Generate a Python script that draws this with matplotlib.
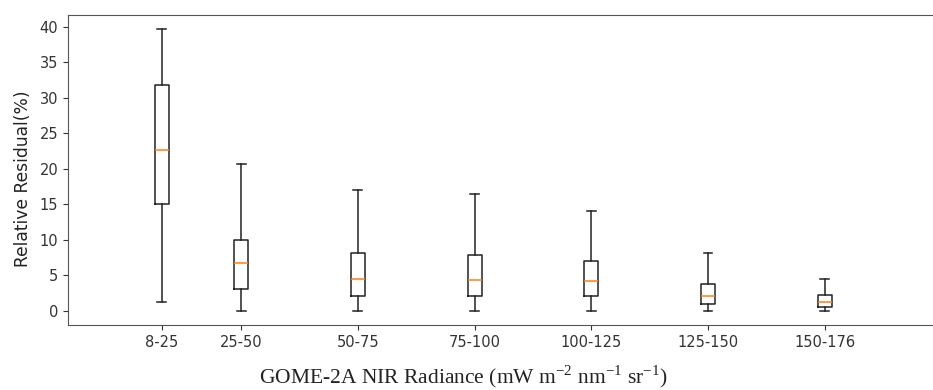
import matplotlib
matplotlib.use('Agg')
import matplotlib.pyplot as plt

# radiance bins (lower bound used as box position)
labels = ['8-25', '25-50', '50-75', '75-100', '100-125', '125-150', '150-176']
positions = [8, 25, 50, 75, 100, 125, 150]

# box statistics (relative residual, %)
whis_lo = [1.2, 0.0, 0.0, 0.0, 0.0, 0.0, 0.0]
q1 = [15.1, 3.1, 2.1, 2.1, 2.15, 0.9, 0.5]
med = [22.6, 6.7, 4.5, 4.4, 4.25, 2.1, 1.3]
q3 = [31.8, 10.0, 8.1, 7.8, 7.0, 3.75, 2.25]
whis_hi = [39.7, 20.6, 17.0, 16.4, 14.0, 8.1, 4.5]

plt.rcParams['mathtext.fontset'] = 'custom'
plt.rcParams['mathtext.rm'] = 'Liberation Serif'

stats = []
for i in range(len(labels)):
    stats.append({'label': labels[i], 'whislo': whis_lo[i], 'q1': q1[i], 'med': med[i],
                  'q3': q3[i], 'whishi': whis_hi[i]})

fig = plt.figure(figsize=(9.33, 3.9), dpi=100)
ax = fig.add_axes([68 / 933, 1 - 325 / 390, (935 - 68) / 933, (325 - 14.5) / 390])

ax.bxp(stats, positions=positions, widths=3, capwidths=1.9, showfliers=False,
       boxprops=dict(color='#222222', linewidth=1.1),
       whiskerprops=dict(color='#222222', linewidth=1.1),
       capprops=dict(color='#222222', linewidth=1.1),
       medianprops=dict(color='#ff7f0e', linewidth=1.1))

ax.set_xlim(-12.06, 173.6)
ax.set_ylim(-2.0, 41.7)
ax.set_yticks([0, 5, 10, 15, 20, 25, 30, 35, 40])
ax.tick_params(labelsize=10.5, colors='#333333')
for s in ax.spines.values():
    s.set_color('#555555')

ax.set_ylabel('Relative Residual(%)', fontsize=12.3, color='#222222')
ax.yaxis.set_label_coords(-0.042, 0.47)
fig.text(463 / 933, 1 - 383 / 390,
         r'GOME-2A NIR Radiance (mW m$^{\mathregular{-2}}$ nm$^{\mathregular{-1}}$ sr$^{\mathregular{-1}}$)',
         fontsize=15.5, family='Liberation Serif', color='#222222', ha='center', va='baseline')

fig.savefig('out.png', dpi=100)
